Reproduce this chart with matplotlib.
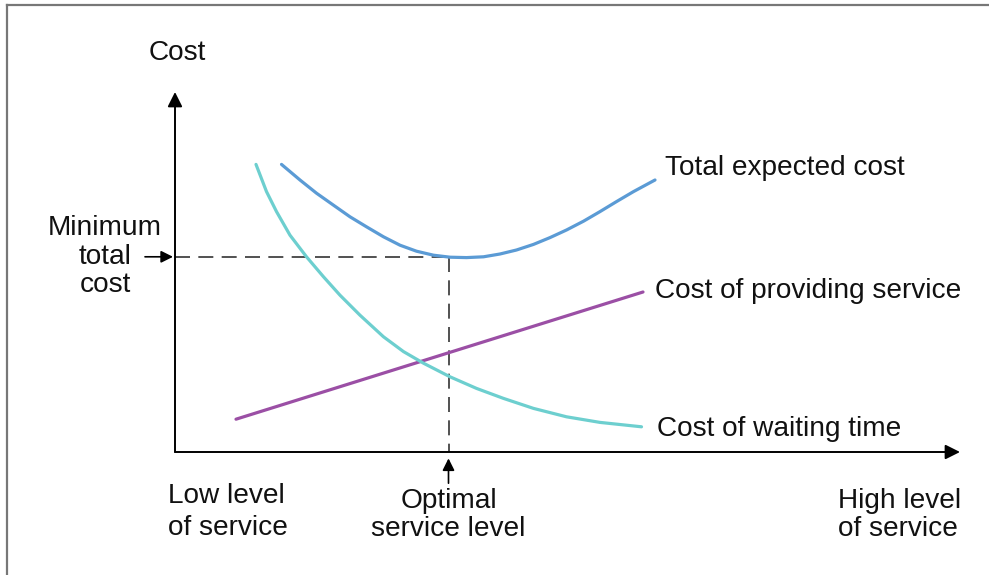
import numpy as np
import matplotlib
matplotlib.use("Agg")
import matplotlib.pyplot as plt
from matplotlib.lines import Line2D

plt.rcParams["font.family"] = ["Liberation Sans", "DejaVu Sans"]
plt.rcParams["font.size"] = 20.2

# service level (x) / cost (y) in arbitrary units
total_x = [2.13, 2.50, 2.83, 3.17, 3.50, 3.83, 4.17, 4.50, 4.83, 5.17, 5.50, 5.83,
           6.17, 6.50, 6.83, 7.17, 7.50, 7.83, 8.17, 8.50, 8.83, 9.17, 9.60]
total_y = [7.19, 6.80, 6.47, 6.17, 5.88, 5.63, 5.38, 5.17, 5.02, 4.92, 4.87, 4.86,
           4.88, 4.95, 5.05, 5.19, 5.36, 5.55, 5.77, 6.01, 6.26, 6.51, 6.80]

wait_x = [1.62, 1.83, 2.03, 2.30, 2.63, 2.97, 3.30, 3.70, 4.17, 4.57, 4.97, 5.50,
          6.03, 6.57, 7.17, 7.83, 8.50, 9.33]
wait_y = [7.19, 6.51, 6.01, 5.42, 4.88, 4.38, 3.92, 3.42, 2.88, 2.51, 2.22, 1.88,
          1.59, 1.34, 1.09, 0.88, 0.74, 0.63]

serv_x = [1.22, 9.36]
serv_y = [0.82, 4.00]

opt_x = 5.47
min_cost = 4.88
x_end = 15.7
y_end = 9.0

labels = ["Total expected cost", "Cost of providing service", "Cost of waiting time"]
colors = ["#5b9bd5", "#9b4fa5", "#6dcfcf"]

fig = plt.figure(figsize=(9.89, 5.75), dpi=100)
ax = fig.add_axes([0, 0, 1, 1])
ax.set_xlim(-3.5, 16.28)
ax.set_ylim(-3.075, 11.3)
ax.axis("off")

txt = "#111111"

# axes with arrows
ax.annotate("", xy=(x_end, 0), xytext=(0, 0),
            arrowprops=dict(arrowstyle="-|>", color="black", lw=1.4,
                            mutation_scale=22, shrinkA=0, shrinkB=0))
ax.annotate("", xy=(0, y_end), xytext=(0, 0),
            arrowprops=dict(arrowstyle="-|>", color="black", lw=1.4,
                            mutation_scale=22, shrinkA=0, shrinkB=0))

# dashed guides
ax.plot([0, opt_x], [min_cost, min_cost], color="#333333", lw=1.2, dashes=(9, 5))
ax.plot([opt_x, opt_x], [min_cost, 0], color="#333333", lw=1.2, dashes=(9, 5))

# curves
ax.plot(total_x, total_y, color=colors[0], lw=2.3, solid_capstyle="round",
        solid_joinstyle="round")
ax.plot(serv_x, serv_y, color=colors[1], lw=2.3, solid_capstyle="round")
ax.plot(wait_x, wait_y, color=colors[2], lw=2.3, solid_capstyle="round",
        solid_joinstyle="round")

# curve labels
ax.text(9.8, 7.1, labels[0], ha="left", va="center", color=txt)
ax.text(9.6, 4.02, labels[1], ha="left", va="center", color=txt)
ax.text(9.64, 0.57, labels[2], ha="left", va="center", color=txt)

ax.text(0.04, 9.97, "Cost", ha="center", va="center", color=txt)
ax.text(-1.4, 4.88, "Minimum\ntotal\ncost", ha="center", va="center",
        multialignment="center", linespacing=1.12, color=txt)
ax.annotate("", xy=(-0.04, min_cost), xytext=(-0.6, min_cost),
            arrowprops=dict(arrowstyle="-|>", color="black", lw=1.2,
                            mutation_scale=18, shrinkA=0, shrinkB=0))

ax.text(-0.14, -1.5, "Low level\nof service", ha="left", va="center",
        linespacing=1.26, color=txt)
ax.text(opt_x, -1.58, "Optimal\nservice level", ha="center", va="center",
        multialignment="center", linespacing=1.08, color=txt)
ax.text(13.26, -1.58, "High level\nof service", ha="left", va="center",
        linespacing=1.08, color=txt)
ax.annotate("", xy=(opt_x, -0.16), xytext=(opt_x, -0.78),
            arrowprops=dict(arrowstyle="-|>", color="black", lw=1.2,
                            mutation_scale=18, shrinkA=0, shrinkB=0))

# frame on top and left, as in the scan
fig.add_artist(Line2D([7 / 989, 1], [1 - 5 / 575, 1 - 5 / 575],
                      transform=fig.transFigure, color="#777777", lw=1.6))
fig.add_artist(Line2D([7 / 989, 7 / 989], [0, 1 - 5 / 575],
                      transform=fig.transFigure, color="#777777", lw=1.6))

fig.savefig("out.png", dpi=100)
